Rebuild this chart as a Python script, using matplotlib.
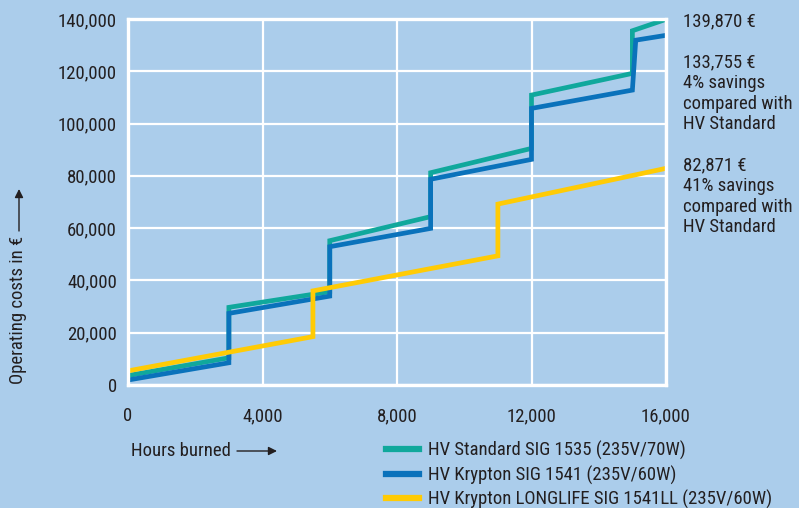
import matplotlib
matplotlib.use('Agg')
import matplotlib.pyplot as plt
from matplotlib.ticker import FuncFormatter
from matplotlib.patches import FancyArrowPatch

plt.rcParams['font.family'] = ['Roboto Condensed', 'DejaVu Sans']

# operating costs (EUR) vs. hours burned
hours_std = [0, 3000, 3000, 6000, 6000, 9000, 9000, 12000, 12000, 15000, 15000, 16000]
cost_std = [3600, 10400, 29700, 35700, 55200, 64400, 81200, 90500, 110900, 119200, 135500, 139870]

hours_kr = [0, 3000, 3000, 6000, 6000, 9000, 9000, 12000, 12000, 15000, 15100, 16000]
cost_kr = [1900, 8500, 27400, 34000, 52900, 59900, 78700, 86300, 105800, 112800, 131900, 133755]

hours_ll = [0, 5500, 5500, 11000, 11000, 16000]
cost_ll = [5400, 18500, 36000, 49400, 69200, 82871]

labels = ['HV Standard SIG 1535 (235V/70W)',
          'HV Krypton SIG 1541 (235V/60W)',
          'HV Krypton LONGLIFE SIG 1541LL (235V/60W)']
end_notes = ['139,870 €',
             '133,755 €\n4% savings\ncompared with\nHV Standard',
             '82,871 €\n41% savings\ncompared with\nHV Standard']

bg = '#abcdeb'
txt = '#231f20'
c_std = '#10a89c'
c_kr = '#0a72bb'
c_ll = '#ffcb05'
fs = 13.5

fig = plt.figure(figsize=(7.99, 5.08), dpi=100, facecolor=bg)
ax = fig.add_axes([128/799, 1-385/508, 538/799, 366/508])
ax.set_facecolor(bg)

ax.plot(hours_std, cost_std, color=c_std, lw=3.4, label=labels[0], solid_joinstyle='miter')
ax.plot(hours_kr, cost_kr, color=c_kr, lw=3.4, label=labels[1], solid_joinstyle='miter')
ax.plot(hours_ll, cost_ll, color=c_ll, lw=3.4, label=labels[2], solid_joinstyle='miter')

ax.set_xlim(0, 16000)
ax.set_ylim(0, 140000)
ax.set_xticks([0, 4000, 8000, 12000, 16000])
ax.set_yticks(range(0, 140001, 20000))
fmt = FuncFormatter(lambda v, p: f'{int(v):,}')
ax.xaxis.set_major_formatter(fmt)
ax.yaxis.set_major_formatter(fmt)
ax.tick_params(length=0, labelsize=fs, labelcolor=txt)
ax.tick_params(axis='x', pad=16)
ax.tick_params(axis='y', pad=8)
ax.grid(True, color='white', lw=1.6)
ax.set_axisbelow(True)
for s in ax.spines.values():
    s.set_color('white')
    s.set_linewidth(2.4)

# axis titles with arrows
fig.text(131/799, 1-451/508, 'Hours burned', fontsize=fs, color=txt, va='center')
fig.add_artist(FancyArrowPatch(
    (237/799, 1-451/508), (277/799, 1-451/508), transform=fig.transFigure,
    arrowstyle='-|>,head_length=5,head_width=2.5', color=txt, lw=1,
    shrinkA=0, shrinkB=0))
fig.text(18/799, 1-384/508, 'Operating costs in €', fontsize=fs, color=txt,
         rotation=90, ha='center', va='bottom')
fig.add_artist(FancyArrowPatch(
    (19/799, 1-231/508), (19/799, 1-189/508), transform=fig.transFigure,
    arrowstyle='-|>,head_length=5,head_width=2.5', color=txt, lw=1,
    shrinkA=0, shrinkB=0))

# end values on the right
ys = [12, 53, 156]
for note, y in zip(end_notes, ys):
    fig.text(683/799, 1-y/508, note, fontsize=fs, color=txt, va='top',
             linespacing=1.2)

leg = fig.legend(loc='upper left', bbox_to_anchor=(386/799, 1-441/508),
                 frameon=False, fontsize=fs, handlelength=1.75,
                 handletextpad=0.5, labelspacing=0.28, borderaxespad=0,
                 borderpad=0)
for t in leg.get_texts():
    t.set_color(txt)
for h in leg.get_lines():
    h.set_linewidth(4.5)

fig.savefig('out.png', dpi=100, facecolor=bg)
